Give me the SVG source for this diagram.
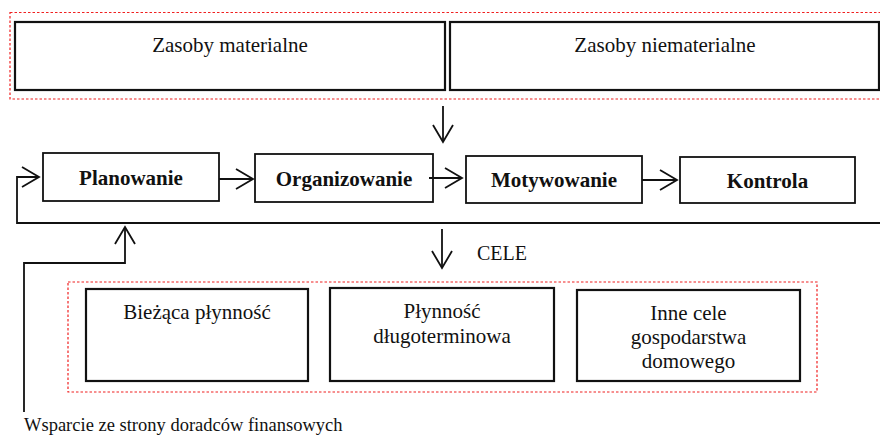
<svg xmlns="http://www.w3.org/2000/svg" width="880" height="435" viewBox="0 0 880 435">
<style>
.frame{fill:none;stroke:#f02020;stroke-width:1.2;stroke-dasharray:2.5,2}
.box{fill:#fff;stroke:#111;stroke-width:2.2}
.pbox{fill:#fff;stroke:#111;stroke-width:1.8}
.t{font-family:"Liberation Serif","Times New Roman",serif;font-size:21px;fill:#111;text-anchor:middle}
.b{font-weight:bold}
.c{fill:none;stroke:#111;stroke-width:1.8}
</style>
<defs>
<marker id="ah" markerUnits="userSpaceOnUse" markerWidth="40" markerHeight="40" refX="0" refY="0" viewBox="-20 -20 40 40" orient="auto" overflow="visible">
<path d="M-17,-10 L0,0 L-17,10" fill="none" stroke="#111" stroke-width="1.8"/>
</marker>
</defs>
<rect class="frame" x="10" y="12.5" width="875" height="86.5"/>
<g id="zasoby-materialne">
<rect class="box" x="15" y="22" width="430" height="68"/>
<text class="t" x="230" y="52">Zasoby materialne</text>
</g>
<g id="zasoby-niematerialne">
<rect class="box" x="450" y="22" width="429" height="68"/>
<text class="t" x="665" y="52">Zasoby niematerialne</text>
</g>
<g id="planowanie">
<rect class="pbox" x="43" y="153" width="176" height="48"/>
<text class="t b" x="131" y="185">Planowanie</text>
</g>
<g id="organizowanie">
<rect class="pbox" x="255" y="154" width="178" height="48"/>
<text class="t b" x="344" y="186">Organizowanie</text>
</g>
<g id="motywowanie">
<rect class="pbox" x="466" y="156" width="176" height="47"/>
<text class="t b" x="554" y="187">Motywowanie</text>
</g>
<g id="kontrola">
<rect class="pbox" x="680" y="157" width="175" height="46"/>
<text class="t b" x="767.5" y="188">Kontrola</text>
</g>
<rect class="frame" x="68" y="282" width="749" height="110"/>
<g id="biezaca">
<rect class="box" x="86" y="289" width="222" height="92"/>
<text class="t" x="197" y="319">Bieżąca płynność</text>
</g>
<g id="dlugoterminowa">
<rect class="box" x="330" y="288" width="224" height="93"/>
<text class="t" x="442" y="318">Płynność</text>
<text class="t" x="442" y="343">długoterminowa</text>
</g>
<g id="inne-cele">
<rect class="box" x="577" y="290" width="223" height="91"/>
<text class="t" x="688.5" y="320">Inne cele</text>
<text class="t" x="688.5" y="344">gospodarstwa</text>
<text class="t" x="688.5" y="368">domowego</text>
</g>
<g id="connectors">
<path class="c" d="M443,106 V142" marker-end="url(#ah)"/>
<path class="c" d="M219,179 H253" marker-end="url(#ah)"/>
<path class="c" d="M429,178 H462" marker-end="url(#ah)"/>
<path class="c" d="M642,180 H677" marker-end="url(#ah)"/>
<path class="c" d="M880,223 H17 V177 H39" marker-end="url(#ah)"/>
<path class="c" d="M24,412 V263 H125 V227" marker-end="url(#ah)"/>
<path class="c" d="M442,229 V268" marker-end="url(#ah)"/>
</g>
<text class="t" x="477" y="260" style="text-anchor:start;font-size:20px">CELE</text>
<text class="t" x="24" y="431" style="text-anchor:start;font-size:18.5px">Wsparcie ze strony doradców finansowych</text>
</svg>
